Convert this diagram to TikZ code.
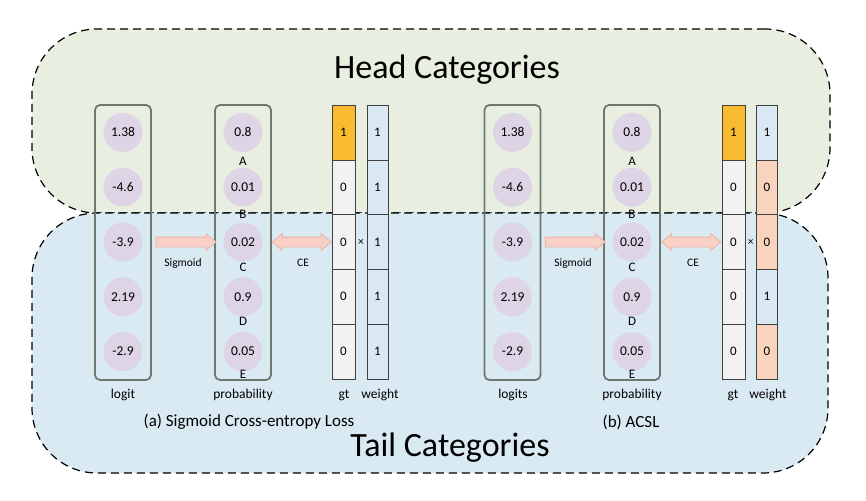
\documentclass[tikz,border=0pt]{standalone}
\usepackage{fontspec}
\setmainfont{Carlito}
\usetikzlibrary{calc,shapes.arrows}
\definecolor{headfill}{HTML}{E9EFE0}
\definecolor{tailfill}{HTML}{DAEAF3}
\definecolor{circfill}{HTML}{DDD4E6}
\definecolor{boxedge}{HTML}{6F7870}
\definecolor{gtone}{HTML}{F8BA2E}
\definecolor{gtzero}{HTML}{F2F2F2}
\definecolor{wblue}{HTML}{DAE8F3}
\definecolor{wpeach}{HTML}{F8D4BF}
\definecolor{arrfill}{HTML}{F8D0C6}
\definecolor{arredge}{HTML}{EBB0A4}
\definecolor{celledge}{HTML}{404040}
\newcommand{\shaftstrut}{\rule{0pt}{9pt}}
\begin{document}
\begin{tikzpicture}[x=1pt,y=-1pt,
  region/.style={draw=black, dash pattern=on 8pt off 5pt, line width=1.2pt, rounded corners=65pt, inner sep=0pt},
  bigtext/.style={font=\fontsize{34}{38}\selectfont, inner sep=0pt},
  captext/.style={font=\fontsize{17}{20}\selectfont, inner sep=0pt},
  lab/.style={font=\fontsize{13.5}{16}\selectfont, inner sep=0pt},
  small/.style={font=\fontsize{11.5}{14}\selectfont, inner sep=0pt},
  colbox/.style={draw=boxedge, line width=1.8pt, rounded corners=5pt, minimum width=56pt, minimum height=275pt, inner sep=0pt},
  circ/.style={circle, fill=circfill, minimum size=39pt, inner sep=0pt, font=\fontsize{13.5}{15}\selectfont},
  letter/.style={font=\fontsize{13}{15}\selectfont, inner sep=0pt},
  gtcell/.style={draw=celledge, line width=0.6pt, minimum width=23pt, minimum height=54.8pt, inner sep=0pt, font=\fontsize{13}{15}\selectfont},
  wcell/.style={draw=celledge, line width=0.6pt, minimum width=21pt, minimum height=54.8pt, inner sep=0pt, font=\fontsize{13}{15}\selectfont},
  sarrow/.style={single arrow, fill=arrfill, draw=arredge, line width=0.8pt, single arrow head extend=3.5pt, single arrow tip angle=80, inner sep=0pt, single arrow head indent=0pt},
  darrow/.style={double arrow, fill=arrfill, draw=arredge, line width=0.8pt, double arrow head extend=3.5pt, double arrow tip angle=80, inner sep=0pt, double arrow head indent=0pt}
]
\useasboundingbox (0,0) rectangle (866,500);
\fill[white] (0,0) rectangle (866,500);

% regions
\node[region, fill=headfill, minimum width=798pt, minimum height=184pt] (head) at (431,121) {};
\node[region, fill=tailfill, minimum width=796pt, minimum height=260pt] (tail) at (430,343) {};
\node[bigtext] (headtxt) at (447,70) {Head Categories};
\node[bigtext] (tailtxt) at (450,448) {Tail Categories};

% ---------- (a) ----------
\node[colbox] (lboxa) at (123,242.5) {};
\node[colbox] (pboxa) at (243,242.5) {};
\foreach \v [count=\i from 0] in {1.38,-4.6,-3.9,2.19,-2.9}
  \node[circ] (la\i) at (123,{132.4+54.8*\i}) {\v};
\foreach \v [count=\i from 0] in {0.8,0.01,0.02,0.9,0.05}
  \node[circ] (pa\i) at (243,{132.4+54.8*\i}) {\v};
\foreach \l [count=\i from 0] in {A,B,C,D,E}
  \node[letter] (lta\i) at (243,{161+53.3*\i}) {\l};
\foreach \v/\c [count=\i from 0] in {1/gtone,0/gtzero,0/gtzero,0/gtzero,0/gtzero}
  \node[gtcell, fill=\c] (ga\i) at (343.5,{132.4+54.8*\i}) {\v};
\foreach \v/\c [count=\i from 0] in {1/wblue,1/wblue,1/wblue,1/wblue,1/wblue}
  \node[wcell, fill=\c] (wa\i) at (377.5,{132.4+54.8*\i}) {\v};
\node[small] (xa) at ($(ga2.east)!0.5!(wa2.west)$) {×};
\node[sarrow, minimum height=60pt] (siga) at ($(la2 -| lboxa.east)!0.5!(pa2 -| pboxa.west)$) {\shaftstrut};
\node[darrow, minimum height=59pt] (cea) at ($(pa2 -| pboxa.east)!0.5!(ga2.west)$) {\shaftstrut};
\node[small] (sigatxt) at (183,263) {Sigmoid};
\node[small] (ceatxt) at (303,263) {CE};
\node[lab] (lla) at (123,395) {logit};
\node[lab] (pla) at (243,395) {probability};
\node[lab] (gla) at (344,395) {gt};
\node[lab] (wla) at (380,395) {weight};
\node[captext] (capa) at (249,422) {(a) Sigmoid Cross-entropy Loss};

% ---------- (b) ----------
\node[colbox] (lboxb) at (512.5,242.5) {};
\node[colbox] (pboxb) at (632,242.5) {};
\foreach \v [count=\i from 0] in {1.38,-4.6,-3.9,2.19,-2.9}
  \node[circ] (lb\i) at (512.5,{132.4+54.8*\i}) {\v};
\foreach \v [count=\i from 0] in {0.8,0.01,0.02,0.9,0.05}
  \node[circ] (pb\i) at (632,{132.4+54.8*\i}) {\v};
\foreach \l [count=\i from 0] in {A,B,C,D,E}
  \node[letter] (ltb\i) at (632,{161+53.3*\i}) {\l};
\foreach \v/\c [count=\i from 0] in {1/gtone,0/gtzero,0/gtzero,0/gtzero,0/gtzero}
  \node[gtcell, fill=\c] (gb\i) at (733.5,{132.4+54.8*\i}) {\v};
\foreach \v/\c [count=\i from 0] in {1/wblue,0/wpeach,0/wpeach,1/wblue,0/wpeach}
  \node[wcell, fill=\c] (wb\i) at (767,{132.4+54.8*\i}) {\v};
\node[small] (xb) at ($(gb2.east)!0.5!(wb2.west)$) {×};
\node[sarrow, minimum height=60pt] (sigb) at ($(lb2 -| lboxb.east)!0.5!(pb2 -| pboxb.west)$) {\shaftstrut};
\node[darrow, minimum height=59pt] (ceb) at ($(pb2 -| pboxb.east)!0.5!(gb2.west)$) {\shaftstrut};
\node[small] (sigbtxt) at (573,263) {Sigmoid};
\node[small] (cebtxt) at (693,263) {CE};
\node[lab] (llb) at (513,395) {logits};
\node[lab] (plb) at (632,395) {probability};
\node[lab] (glb) at (733,395) {gt};
\node[lab] (wlb) at (768,395) {weight};
\node[captext] (capb) at (631,422) {(b) ACSL};
\end{tikzpicture}
\end{document}
